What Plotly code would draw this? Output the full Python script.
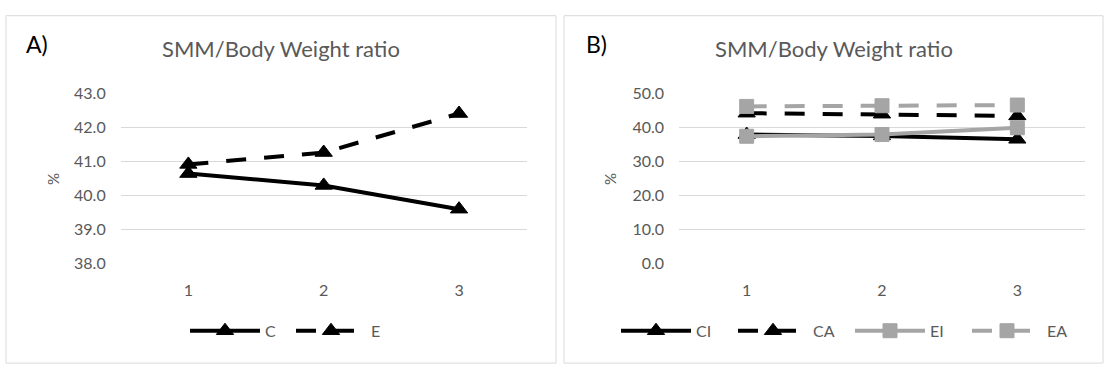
import plotly.graph_objects as go

W, H = 1108, 374

# ---- data ----
categories = [1, 2, 3]
# Panel A
C_vals = [40.65, 40.30, 39.60]
E_vals = [40.92, 41.27, 42.42]
# Panel B
CI_vals = [38.0, 37.6, 36.6]
CA_vals = [44.3, 44.0, 43.5]
EI_vals = [37.5, 38.0, 40.0]
EA_vals = [46.3, 46.5, 46.7]

title_text = "SMM/Body Weight ratio"
BLACK = "#000000"
GRAY = "#A5A5A5"
TXT = "#595959"
GRID = "#D9D9D9"
FONT = "Lato"
DASH = "20px,18px"

def px(x):
    return x / W

def py(y):
    return 1 - y / H

fig = go.Figure()

def add(name, xs, ys, color, dash, symbol, size, xa, ya, legend):
    fig.add_trace(go.Scatter(
        x=xs, y=ys, name=name, mode="lines+markers",
        line=dict(color=color, width=4, dash=dash),
        marker=dict(symbol=symbol, size=size, color=color,
                    line=dict(color=color, width=1)),
        xaxis=xa, yaxis=ya, legend=legend,
    ))

add("C", categories, C_vals, BLACK, "solid", "triangle-up", 15, "x", "y", "legend")
add("E", categories, E_vals, BLACK, DASH, "triangle-up", 15, "x", "y", "legend")
add("CI", categories, CI_vals, BLACK, "solid", "triangle-up", 15, "x2", "y2", "legend2")
add("CA", categories, CA_vals, BLACK, DASH, "triangle-up", 15, "x2", "y2", "legend2")
add("EI", categories, EI_vals, GRAY, "solid", "square", 14, "x2", "y2", "legend2")
add("EA", categories, EA_vals, GRAY, DASH, "square", 14, "x2", "y2", "legend2")

ydom = [py(267), py(88.3)]
tickfont = dict(family=FONT, size=16, color=TXT)

xcommon = dict(range=[0.5, 3.5], tickvals=categories, ticktext=[str(c) for c in categories],
               showgrid=False, zeroline=False, showline=False, ticks="",
               tickfont=tickfont, ticklabelstandoff=16, fixedrange=True)
ycommon = dict(showgrid=True, gridcolor=GRID, gridwidth=1, zeroline=False,
               showline=False, ticks="", tickformat=".1f", tickfont=tickfont,
               ticklabelstandoff=14, fixedrange=True)

legfont = dict(family=FONT, size=16, color=TXT)

fig.update_layout(
    width=W, height=H,
    margin=dict(l=0, r=0, t=0, b=0),
    paper_bgcolor="white", plot_bgcolor="white",
    font=dict(family=FONT, color=TXT),
    xaxis=dict(domain=[px(120.7), px(526.7)], anchor="y", **xcommon),
    yaxis=dict(domain=ydom, anchor="x", range=[38, 43.001], dtick=1, **ycommon),
    xaxis2=dict(domain=[px(679), px(1085)], anchor="y2", **xcommon),
    yaxis2=dict(domain=ydom, anchor="x2", range=[0, 50.01], dtick=10, **ycommon),
    legend=dict(orientation="h", x=px(185), y=py(338), xanchor="left", yanchor="middle",
                itemwidth=70, entrywidth=21, font=legfont,
                bgcolor="rgba(0,0,0,0)", itemclick=False, itemdoubleclick=False),
    legend2=dict(orientation="h", x=px(616), y=py(338), xanchor="left", yanchor="middle",
                 itemwidth=70, entrywidth=32, font=legfont,
                 bgcolor="rgba(0,0,0,0)", itemclick=False, itemdoubleclick=False),
    shapes=[
        dict(type="rect", xref="paper", yref="paper", x0=px(6), x1=px(556), y0=py(372), y1=py(6),
             line=dict(color=GRID, width=1), fillcolor="rgba(0,0,0,0)", layer="below"),
        dict(type="rect", xref="paper", yref="paper", x0=px(564), x1=px(1103), y0=py(372), y1=py(6),
             line=dict(color=GRID, width=1), fillcolor="rgba(0,0,0,0)", layer="below"),
    ],
    annotations=[
        dict(text="A)", x=px(24), y=py(36), xref="paper", yref="paper", xanchor="left",
             yanchor="middle", showarrow=False, font=dict(family=FONT, size=23, color="#000000")),
        dict(text="B)", x=px(584), y=py(36), xref="paper", yref="paper", xanchor="left",
             yanchor="middle", showarrow=False, font=dict(family=FONT, size=23, color="#000000")),
        dict(text=title_text, x=px(281), y=py(41), xref="paper", yref="paper", xanchor="center",
             yanchor="middle", showarrow=False, font=dict(family=FONT, size=22, color=TXT)),
        dict(text=title_text, x=px(834), y=py(41), xref="paper", yref="paper", xanchor="center",
             yanchor="middle", showarrow=False, font=dict(family=FONT, size=22, color=TXT)),
        dict(text="%", x=px(53), y=py(178), xref="paper", yref="paper", xanchor="center",
             yanchor="middle", textangle=-90, showarrow=False, font=dict(family=FONT, size=15, color=TXT)),
        dict(text="%", x=px(610), y=py(178), xref="paper", yref="paper", xanchor="center",
             yanchor="middle", textangle=-90, showarrow=False, font=dict(family=FONT, size=15, color=TXT)),
    ],
)

fig.write_html("out.html")
